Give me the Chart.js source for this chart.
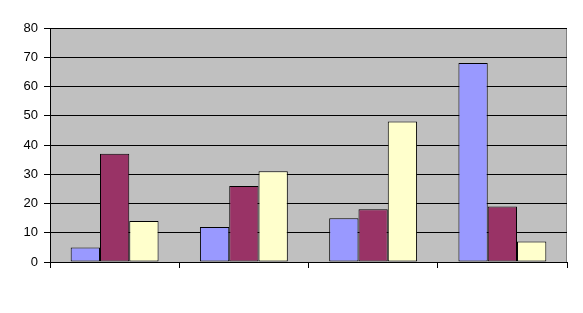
<!DOCTYPE html>
<html><head><meta charset="utf-8">
<script src="https://cdn.jsdelivr.net/npm/chart.js@4/dist/chart.umd.min.js"></script>
<style>html,body{margin:0;padding:0;background:#fff;}#w{width:583px;height:313px;}</style>
</head><body><div id="w"><canvas id="c" width="583" height="313"></canvas></div>
<script>
const categories = ["", "", "", ""];
const series1 = [5, 12, 15, 68];
const series2 = [37, 26, 18, 19];
const series3 = [14, 31, 48, 7];
const yTicks = [0, 10, 20, 30, 40, 50, 60, 70, 80];

const plotBg = {
  id: 'plotBg',
  beforeDraw(chart) {
    const {ctx, chartArea: a} = chart;
    ctx.save();
    ctx.fillStyle = '#C0C0C0';
    ctx.fillRect(a.left, a.top, a.right - a.left, a.bottom - a.top);
    ctx.strokeStyle = '#808080';
    ctx.lineWidth = 1;
    ctx.strokeRect(a.left + 0.5, a.top + 0.5, a.right - a.left - 1, a.bottom - a.top);
    ctx.restore();
  }
};

new Chart(document.getElementById('c'), {
  type: 'bar',
  data: {
    labels: categories,
    datasets: [
      {data: series1, backgroundColor: '#9999FF', borderColor: '#000', borderWidth: 1, borderSkipped: false},
      {data: series2, backgroundColor: '#993366', borderColor: '#000', borderWidth: 1, borderSkipped: false},
      {data: series3, backgroundColor: '#FFFFCC', borderColor: '#000', borderWidth: 1, borderSkipped: false}
    ]
  },
  plugins: [plotBg],
  options: {
    responsive: false,
    animation: false,
    devicePixelRatio: 1,
    layout: {padding: {left: 0, top: 28, right: 16, bottom: 0}},
    plugins: {legend: {display: false}, tooltip: {enabled: false}},
    datasets: {bar: {categoryPercentage: 0.68, barPercentage: 1}},
    scales: {
      x: {
        offset: true,
        grid: {offset: true, color: 'rgba(0,0,0,0)', tickColor: '#000', tickLength: 6, drawOnChartArea: false},
        border: {color: '#000', width: 1},
        ticks: {display: false},
        afterFit(s) { s.height = 51; }
      },
      y: {
        min: 0, max: 80,
        afterBuildTicks(s) { s.ticks = yTicks.map(v => ({value: v})); },
        grid: {color: '#000', tickColor: '#000', tickLength: 6},
        border: {color: '#000', width: 1},
        ticks: {color: '#000', padding: 6, font: {family: 'Arial, "Liberation Sans"', size: 13}},
        afterFit(s) { s.width = 50; }
      }
    }
  }
});
</script></body></html>
